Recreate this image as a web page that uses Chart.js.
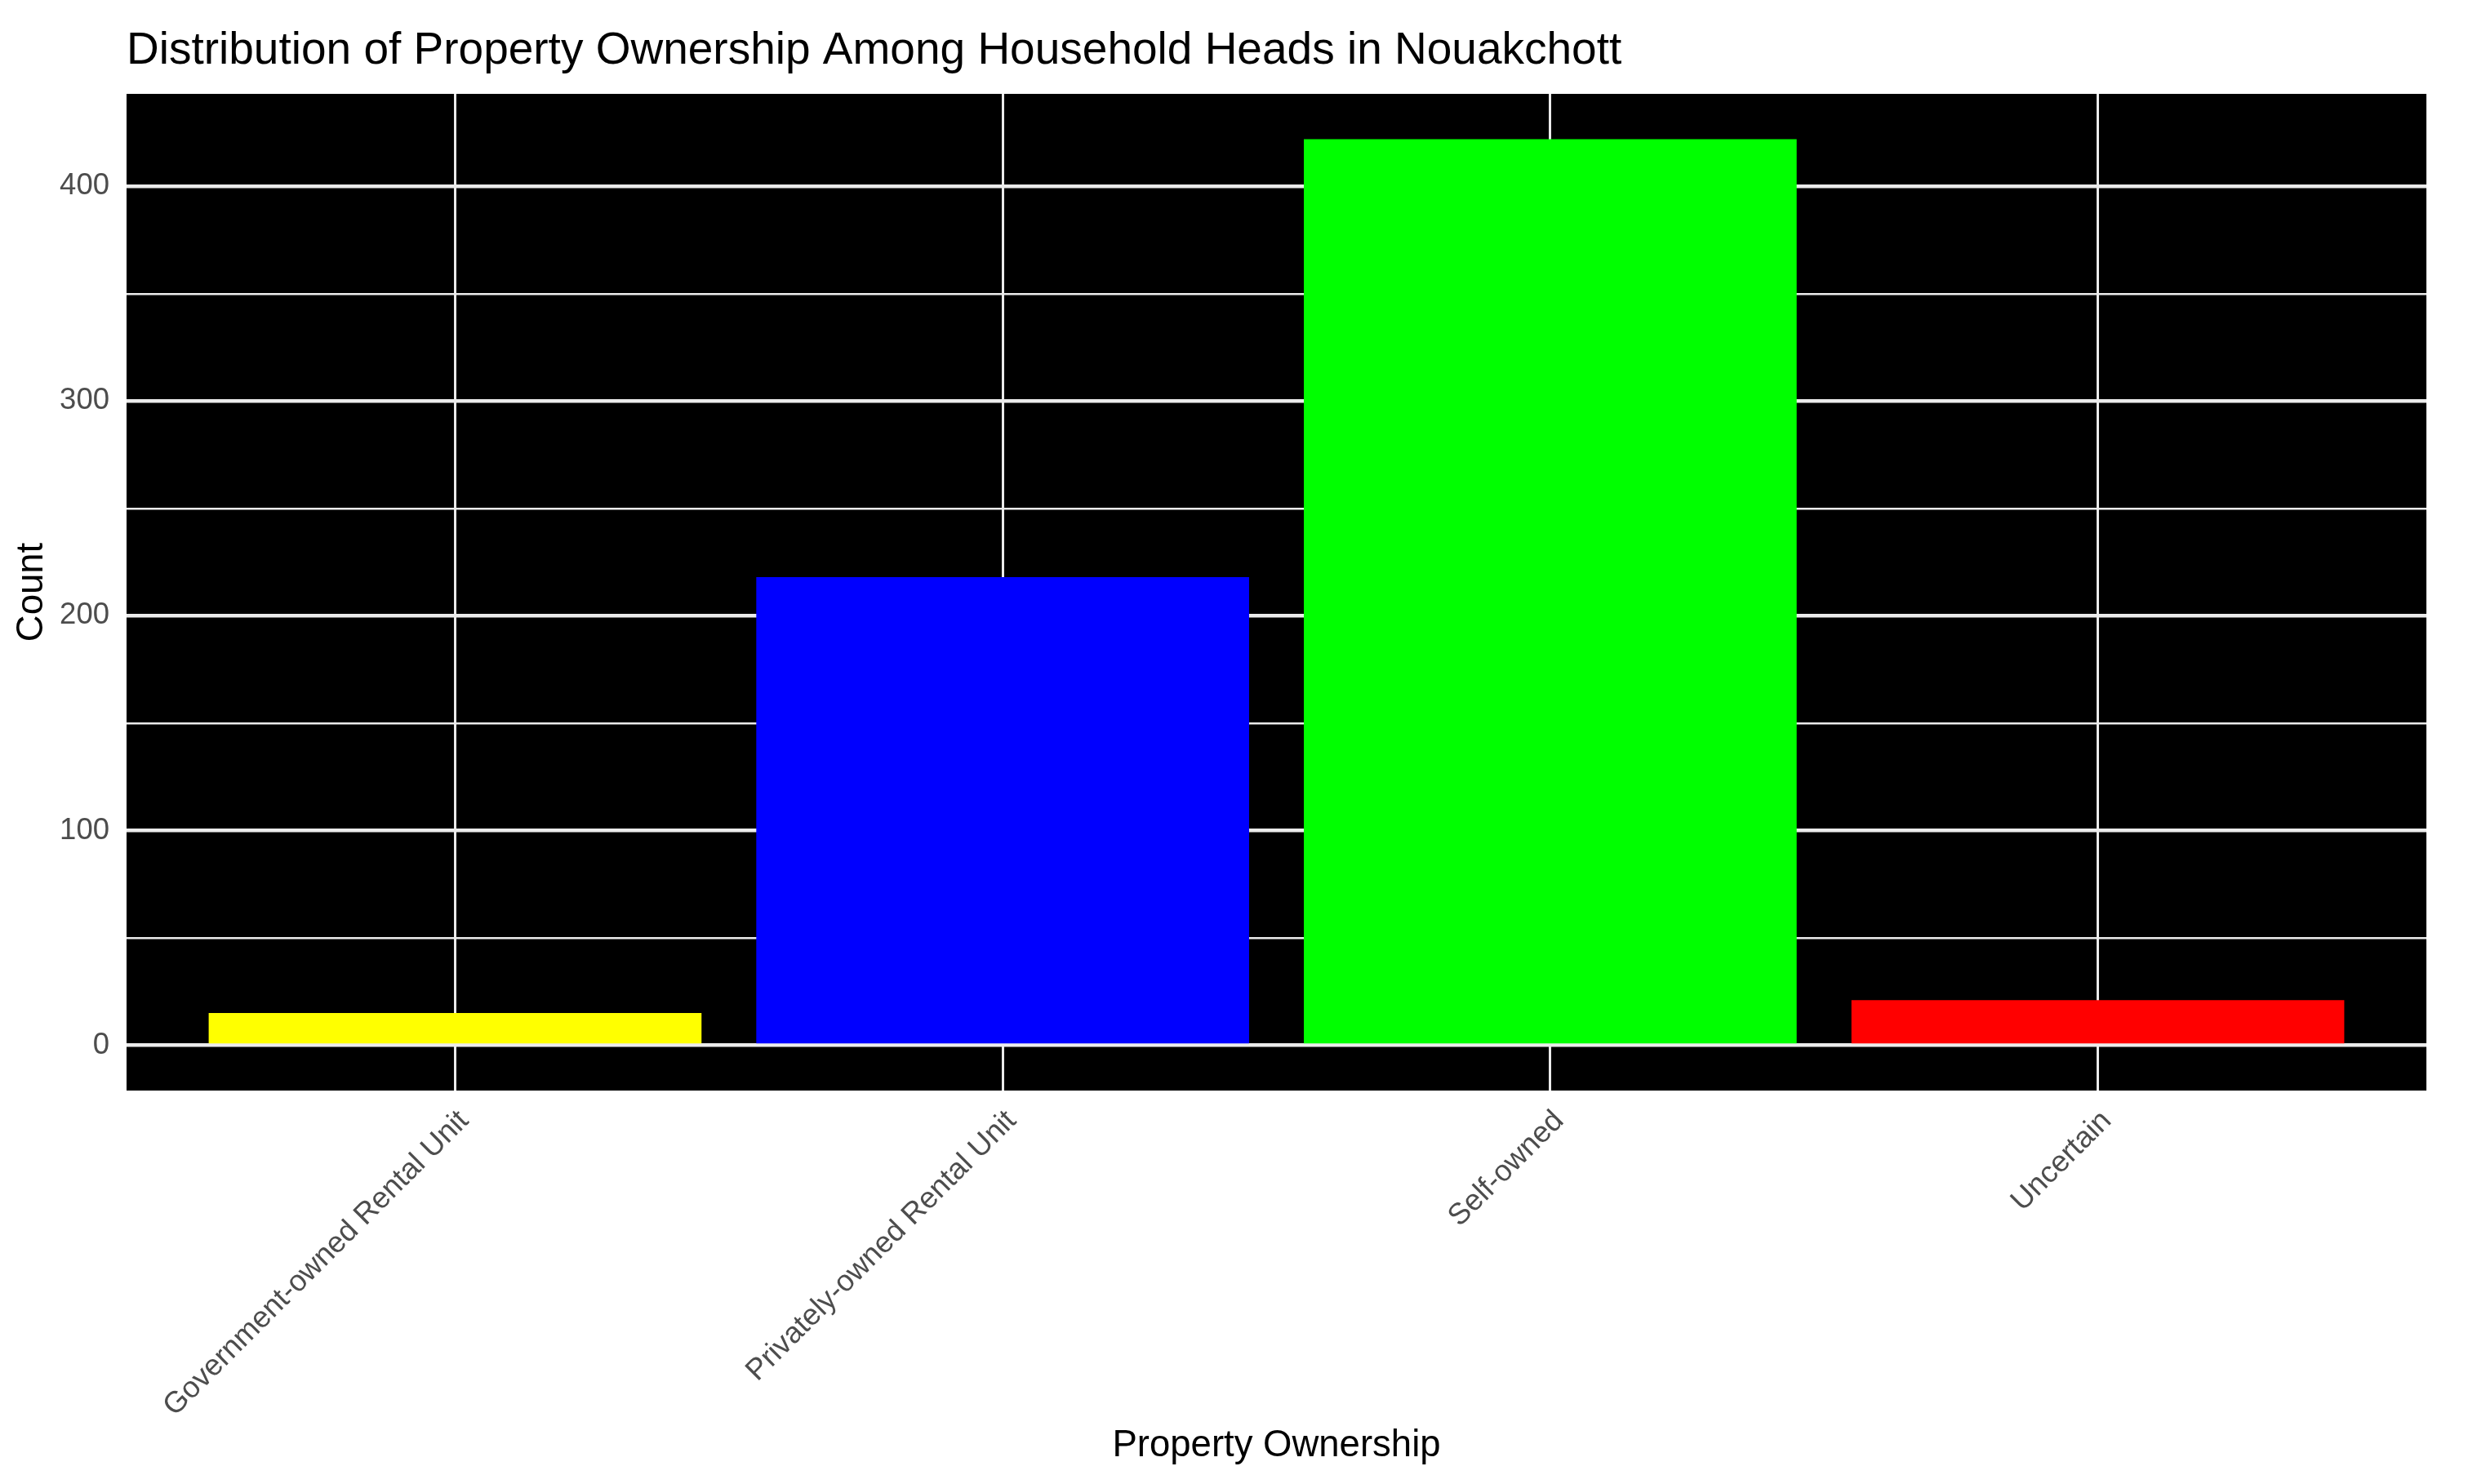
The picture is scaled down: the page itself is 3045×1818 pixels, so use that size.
<!DOCTYPE html>
<html>
<head>
<meta charset="utf-8">
<title>Property Ownership in Nouakchott</title>
<script src="https://cdn.jsdelivr.net/npm/chart.js@4/dist/chart.umd.min.js"></script>
<style>
  html, body { margin: 0; padding: 0; background: #ffffff; }
  #wrap { width: 3045px; height: 1818px; }
</style>
</head>
<body>
<div id="wrap"><canvas id="myChart" width="3045" height="1818"></canvas></div>
<script>
// Datos
const categories = ['Government-owned Rental Unit', 'Privately-owned Rental Unit', 'Self-owned', 'Uncertain'];
const counts = [15, 218, 422, 21];
const barColors = ['#ffff00', '#0000ff', '#00ff00', '#ff0000'];
const yTicks = [0, 50, 100, 150, 200, 250, 300, 350, 400];

const font = 'Liberation Sans, Arial, Helvetica, sans-serif';
const gridColor = '#ebebeb';

// Fondo negro del panel (como theme de ggplot)
const panelBackground = {
    id: 'panelBackground',
    beforeDraw(chart) {
        const { ctx, chartArea } = chart;
        ctx.save();
        ctx.fillStyle = '#ffffff';
        ctx.fillRect(0, 0, chart.width, chart.height);
        ctx.fillStyle = '#000000';
        ctx.fillRect(chartArea.left, chartArea.top, chartArea.right - chartArea.left, chartArea.bottom - chartArea.top);
        ctx.restore();
    }
};

// Expansión de ggplot: 5% en y, 0.6 unidades en x
const yMin = -0.05 * Math.max(...counts);
const yMax = Math.max(...counts) * 1.05;

const ctx = document.getElementById('myChart').getContext('2d');

const myChart = new Chart(ctx, {
    type: 'bar',
    data: {
        datasets: [{
            data: counts.map((v, i) => ({ x: i, y: v })),
            backgroundColor: barColors,
            borderWidth: 0,
            barPercentage: 0.9,
            categoryPercentage: 1
        }]
    },
    options: {
        responsive: false,
        animation: false,
        layout: { padding: { left: 0, right: 73, top: 0, bottom: 0 } },
        plugins: {
            legend: { display: false },
            tooltip: { enabled: false },
            title: {
                display: true,
                text: 'Distribution of Property Ownership Among Household Heads in Nouakchott',
                align: 'start',
                fullSize: false,
                color: '#000000',
                font: { family: font, size: 55, weight: 'normal' },
                padding: { top: 30, bottom: 19 }
            }
        },
        scales: {
            x: {
                type: 'linear',
                min: -0.6,
                max: 3.6,
                offset: false,
                afterBuildTicks: scale => {
                    scale.ticks = categories.map((c, i) => ({ value: i }));
                },
                afterFit: scale => { scale.height = 482; },
                grid: {
                    color: gridColor,
                    lineWidth: 3,
                    offset: false,
                    drawTicks: false
                },
                border: { display: false },
                ticks: {
                    autoSkip: false,
                    maxRotation: 45,
                    minRotation: 45,
                    padding: 16,
                    labelOffset: 11,
                    color: '#4d4d4d',
                    font: { family: font, size: 36.5 },
                    callback: value => categories[value]
                },
                title: {
                    display: true,
                    text: 'Property Ownership',
                    color: '#000000',
                    font: { family: font, size: 45.5 },
                    padding: { top: 0, bottom: 19 }
                }
            },
            y: {
                min: yMin,
                max: yMax,
                afterBuildTicks: scale => {
                    scale.ticks = yTicks.map(v => ({ value: v }));
                },
                afterFit: scale => { scale.width = 155; },
                grid: {
                    color: gridColor,
                    lineWidth: context => (context.tick && context.tick.value % 100 === 0) ? 4.5 : 2.5,
                    drawTicks: false
                },
                border: { display: false },
                ticks: {
                    padding: 21,
                    color: '#4d4d4d',
                    font: { family: font, size: 36.5 },
                    callback: value => (value % 100 === 0 ? value : '')
                },
                title: {
                    display: true,
                    text: 'Count',
                    color: '#000000',
                    font: { family: font, size: 45.5 },
                    padding: { top: 12, bottom: 0 }
                }
            }
        }
    },
    plugins: [panelBackground]
});
</script>
</body>
</html>
